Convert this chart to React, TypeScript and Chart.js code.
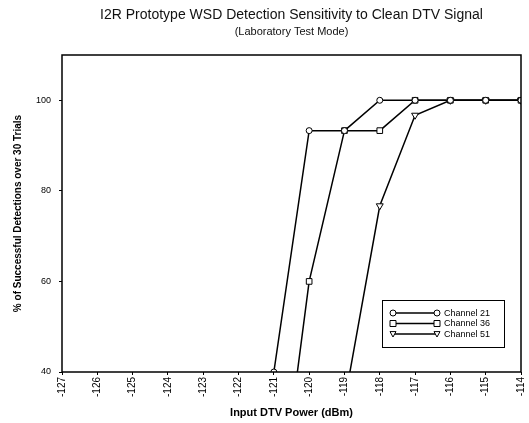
import React, { useEffect, useRef } from "react";
import { Chart, registerables } from "chart.js";

Chart.register(...registerables);

const xValues = [-127, -126, -125, -124, -123, -122, -121, -120, -119, -118, -117, -116, -115, -114];
const channel21 = [0, 0, 0, 0, 0, 0, 40, 93.3, 93.3, 100, 100, 100, 100, 100];
const channel36 = [0, 0, 0, 0, 0, 0, 0, 60, 93.3, 93.3, 100, 100, 100, 100];
const channel51 = [0, 0, 0, 0, 0, 0, 0, 0, 33.3, 76.7, 96.7, 100, 100, 100];
const seriesLabels = ["Channel 21", "Channel 36", "Channel 51"];
const seriesMarkers = ["circle", "rect", "triangle"];
const yTicks = [40, 60, 80, 100];
const titleText = "I2R Prototype WSD Detection Sensitivity to Clean DTV Signal";
const subtitleText = "(Laboratory Test Mode)";
const xTitle = "Input DTV Power (dBm)";
const yTitle = "% of Successful Detections over 30 Trials";

const FONT = "'Liberation Sans', Arial, sans-serif";

function drawMarker(ctx: CanvasRenderingContext2D, style: string, x: number, y: number, r: number) {
  ctx.beginPath();
  if (style === "circle") {
    ctx.arc(x, y, r, 0, Math.PI * 2);
  } else if (style === "rect") {
    ctx.rect(x - r, y - r, 2 * r, 2 * r);
  } else {
    ctx.moveTo(x - r, y - r * 0.8);
    ctx.lineTo(x + r, y - r * 0.8);
    ctx.lineTo(x, y + r);
    ctx.closePath();
  }
  ctx.fill();
  ctx.stroke();
}

const framePlugin = {
  id: "frame",
  afterDraw(chart: any) {
    const { ctx, chartArea } = chart;
    const { left, right, top, bottom } = chartArea;
    ctx.save();
    ctx.strokeStyle = "#000";
    ctx.lineWidth = 1.5;
    ctx.strokeRect(left, top, right - left, bottom - top);
    const cx = (left + right) / 2;
    ctx.fillStyle = "#111";
    ctx.textAlign = "center";
    ctx.textBaseline = "middle";
    ctx.font = `14px ${FONT}`;
    ctx.fillText(titleText, cx, 15);
    ctx.font = `11px ${FONT}`;
    ctx.fillText(subtitleText, cx, 32);

    const lx = 382, ly = 300, lw = 122, lh = 47;
    ctx.fillStyle = "#fff";
    ctx.fillRect(lx, ly, lw, lh);
    ctx.strokeStyle = "#000";
    ctx.lineWidth = 1;
    ctx.strokeRect(lx + 0.5, ly + 0.5, lw, lh);
    ctx.font = `9px ${FONT}`;
    ctx.textAlign = "left";
    chart.data.datasets.forEach((ds: any, i: number) => {
      const y = 313 + i * 10.5;
      ctx.strokeStyle = "#000";
      ctx.lineWidth = 1.5;
      ctx.beginPath();
      ctx.moveTo(393, y);
      ctx.lineTo(437, y);
      ctx.stroke();
      ctx.fillStyle = "#fff";
      ctx.lineWidth = 1;
      drawMarker(ctx, ds.pointStyle, 393, y, 3);
      drawMarker(ctx, ds.pointStyle, 437, y, 3);
      ctx.fillStyle = "#000";
      ctx.fillText(ds.label, 444, y + 0.5);
    });
    ctx.restore();
  },
};

export default function App() {
  const ref = useRef<HTMLCanvasElement | null>(null);
  useEffect(() => {
    if (!ref.current) return;
    const datasets = [channel21, channel36, channel51].map((vals, i) => ({
      label: seriesLabels[i],
      data: xValues.map((x, j) => ({ x, y: vals[j] })),
      borderColor: "#000",
      backgroundColor: "#fff",
      borderWidth: 1.5,
      pointStyle: seriesMarkers[i],
      pointRadius: i === 0 ? 3 : 4,
      pointBorderWidth: 1,
      pointRotation: i === 2 ? 180 : 0,
      pointBackgroundColor: "#fff",
      pointBorderColor: "#000",
      tension: 0,
    }));
    const chart = new Chart(ref.current, {
      type: "line",
      data: { datasets },
      plugins: [framePlugin],
      options: {
        animation: false,
        responsive: false,
        devicePixelRatio: 1,
        layout: { padding: { top: 55, right: 8, left: 0, bottom: 0 } },
        plugins: { legend: { display: false }, title: { display: false }, tooltip: { enabled: false } },
        scales: {
          x: {
            type: "linear",
            min: -127,
            max: -114,
            grid: { display: true, drawOnChartArea: false, tickLength: 3, color: "#000" },
            border: { display: false },
            ticks: {
              stepSize: 1,
              autoSkip: false,
              minRotation: 90,
              maxRotation: 90,
              color: "#000",
              font: { family: FONT, size: 10 },
              padding: 2,
            },
            title: {
              display: true,
              text: xTitle,
              color: "#000",
              font: { family: FONT, size: 11, weight: "bold" },
              padding: { top: 0, bottom: 3 },
            },
            afterFit: (s: any) => {
              s.height = 51;
              s.paddingLeft = 0;
              s.paddingRight = 0;
            },
          },
          y: {
            type: "linear",
            min: 40,
            max: 110,
            grid: { display: true, drawOnChartArea: false, tickLength: 3, color: "#000" },
            border: { display: false },
            afterBuildTicks: (s: any) => { s.ticks = yTicks.map((v) => ({ value: v })); },
            ticks: {
              color: "#000",
              font: { family: FONT, size: 9 },
              padding: 8,
            },
            title: {
              display: true,
              text: yTitle,
              color: "#000",
              font: { family: FONT, size: 10, weight: "bold" },
              padding: { top: 12, bottom: 0 },
            },
            afterFit: (s: any) => {
              s.width = 62;
              s.paddingTop = 0;
              s.paddingBottom = 0;
            },
          },
        },
      },
    } as any);
    return () => chart.destroy();
  }, []);
  return (
    <div style={{ position: "fixed", left: 0, top: 0, width: 529, height: 423, background: "#fff" }}>
      <canvas ref={ref} width={529} height={423} style={{ width: 529, height: 423 }} />
    </div>
  );
}
